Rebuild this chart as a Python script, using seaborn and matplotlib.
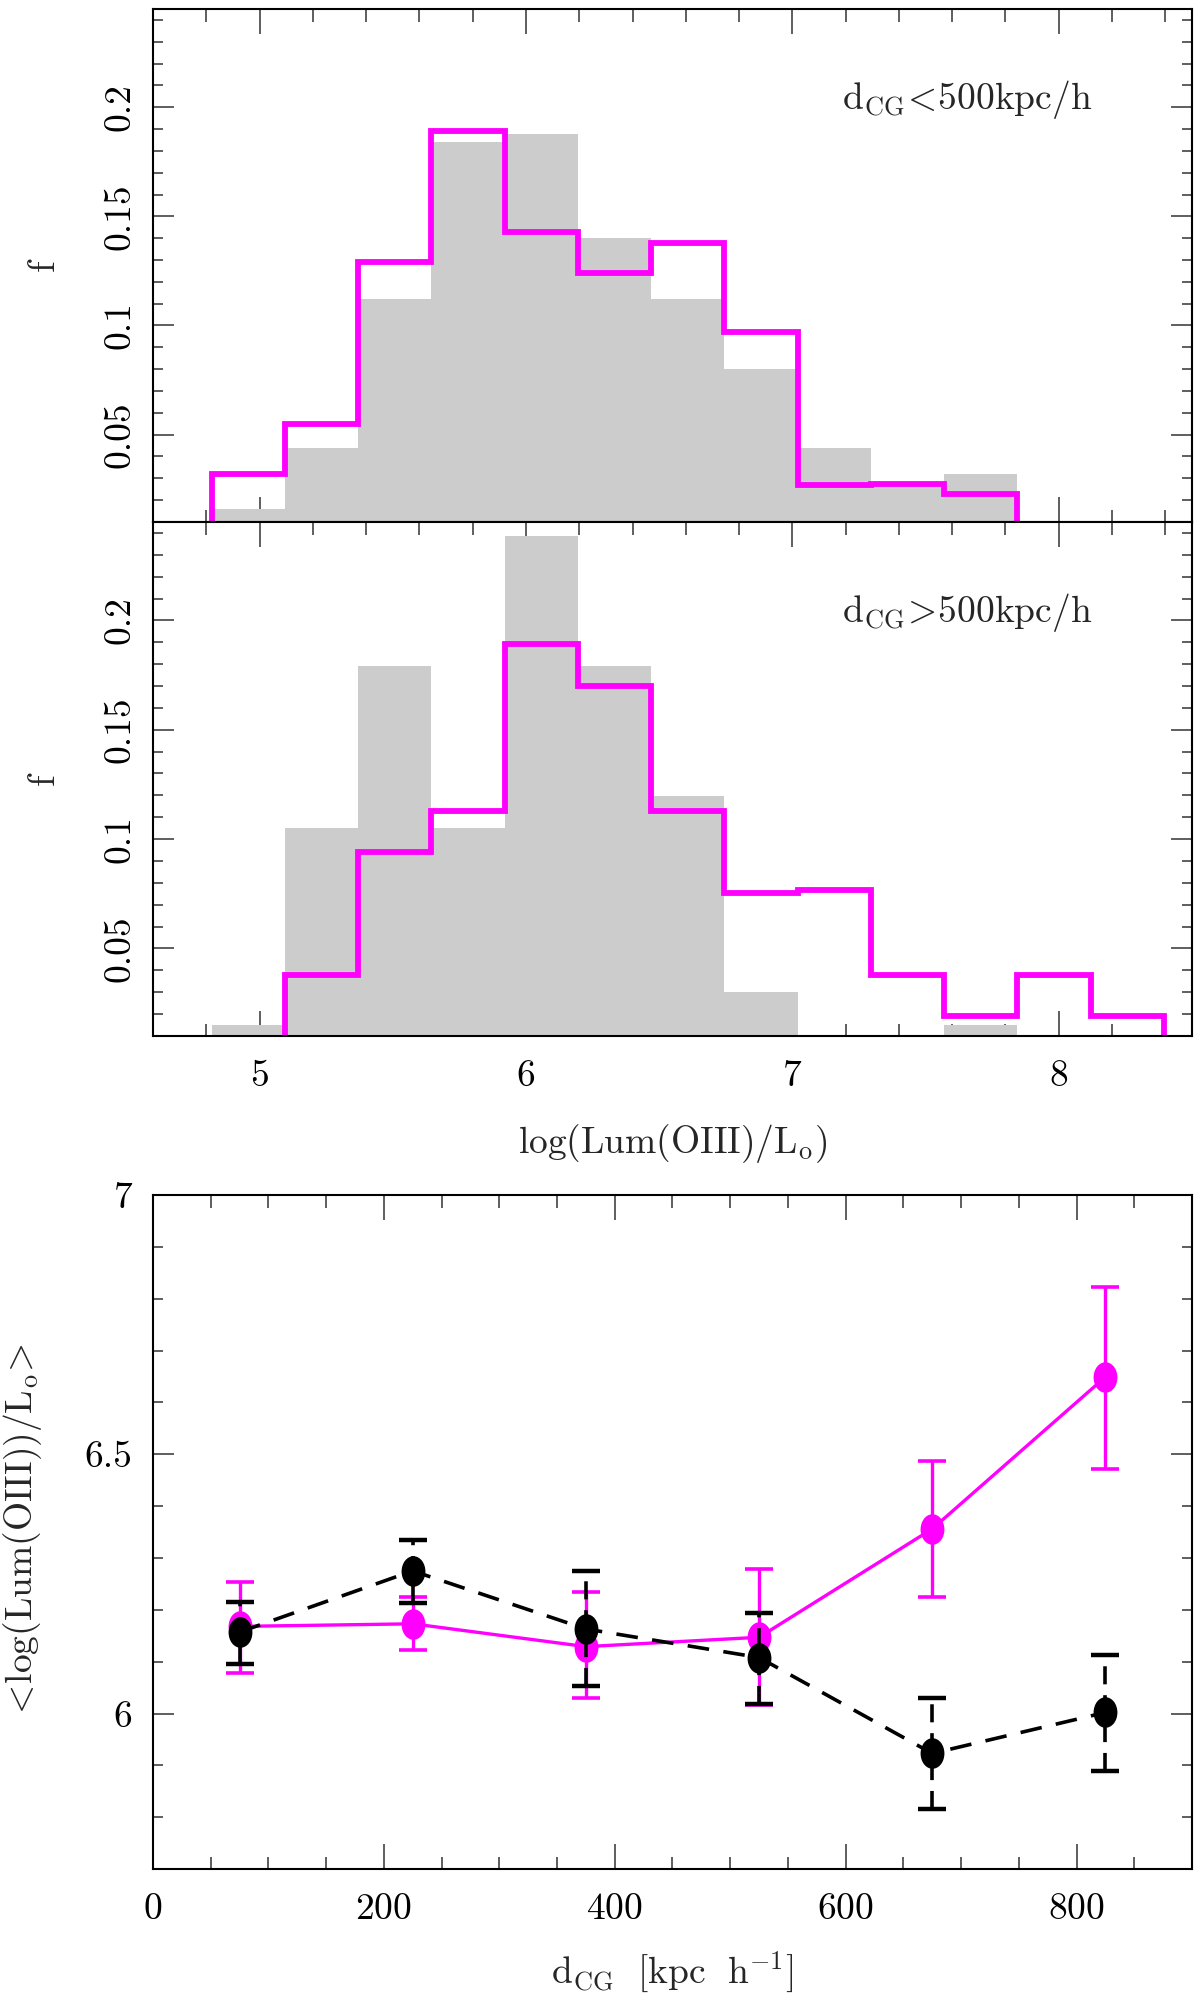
import numpy as np
import matplotlib
matplotlib.use("Agg")
from matplotlib import pyplot as plt
from matplotlib.ticker import MultipleLocator, FormatStrFormatter
from matplotlib.path import Path
from matplotlib.transforms import Affine2D
import seaborn as sns

# bin edges of log(Lum(OIII)/Lo), shared by both histograms
LUM_EDGES = [4.5445, 4.82, 5.095, 5.37, 5.645, 5.92, 6.195, 6.47,
             6.745, 7.02, 7.295, 7.57, 7.845, 8.12, 8.395, 8.67]

# d_CG < 500 kpc/h
NEAR_GRAY = [0, 0.016, 0.044, 0.112, 0.184, 0.1875, 0.140, 0.112,
             0.080, 0.044, 0.0265, 0.032, 0, 0, 0]
NEAR_MAG = [0, 0.032, 0.055, 0.129, 0.189, 0.143, 0.124, 0.138,
            0.097, 0.027, 0.0275, 0.023, 0, 0, 0]

# d_CG > 500 kpc/h
FAR_GRAY = [0, 0.015, 0.105, 0.179, 0.105, 0.2386, 0.179, 0.1195,
            0.030, 0, 0, 0.015, 0, 0, 0]
FAR_MAG = [0, 0, 0.038, 0.094, 0.113, 0.189, 0.170, 0.113,
           0.0755, 0.0765, 0.038, 0.019, 0.038, 0.019, 0]

# mean luminosity vs distance to the centre
D_CG = [75, 225, 375, 525, 675, 825]
MAG_MEAN = [6.168, 6.173, 6.129, 6.147, 6.356, 6.649]
MAG_LO = [6.079, 6.123, 6.030, 6.017, 6.2245, 6.471]
MAG_HI = [6.254, 6.2245, 6.234, 6.278, 6.487, 6.823]
BLK_MEAN = [6.157, 6.275, 6.163, 6.108, 5.923, 6.002]
BLK_LO = [6.095, 6.214, 6.054, 6.019, 5.816, 5.890]
BLK_HI = [6.215, 6.335, 6.274, 6.194, 6.030, 6.112]

MAGENTA = "#ff00ff"
GRAY = "#cccccc"

sns.set_style("ticks")
plt.rcParams['font.family'] = ['cmr10', 'DejaVu Serif']
plt.rcParams['mathtext.fontset'] = 'cm'
plt.rcParams['axes.formatter.use_mathtext'] = True
plt.rcParams['font.size'] = 27
plt.rcParams['axes.linewidth'] = 1.5
plt.rcParams['axes.edgecolor'] = 'black'


def style_ticks(ax, ypad):
    ax.tick_params(which='both', direction='in', top=True, right=True,
                   color='#333333', labelcolor='black', labelsize=27)
    ax.tick_params(axis='x', which='major', length=18, width=1.1, pad=17)
    ax.tick_params(axis='x', which='minor', length=9, width=1.1)
    ax.tick_params(axis='y', which='major', length=15, width=1.1, pad=ypad)
    ax.tick_params(axis='y', which='minor', length=7.5, width=1.1)


def draw_hist(ax, gray_vals, mag_vals, label):
    edges = np.array(LUM_EDGES)
    centers = 0.5 * (edges[:-1] + edges[1:])
    sns.histplot(x=centers, weights=gray_vals, bins=LUM_EDGES, element='bars',
                 color=GRAY, alpha=1, linewidth=0, ax=ax)
    sns.histplot(x=centers, weights=mag_vals, bins=LUM_EDGES, element='step',
                 fill=False, color=MAGENTA, linewidth=4.2,
                 solid_joinstyle='miter', ax=ax)
    ax.set_xlim(4.6, 8.5)
    ax.set_ylim(0.01, 0.245)
    ax.xaxis.set_major_locator(MultipleLocator(1))
    ax.xaxis.set_minor_locator(MultipleLocator(0.2))
    ax.yaxis.set_major_locator(MultipleLocator(0.05))
    ax.yaxis.set_minor_locator(MultipleLocator(0.01))
    ax.yaxis.set_major_formatter(FormatStrFormatter('%g'))
    style_ticks(ax, 12)
    plt.setp(ax.get_yticklabels(), rotation=90, va='center')
    ax.set_ylabel('f')
    ax.yaxis.set_label_coords(-0.0885, 0.5)
    ax.text(0.784, 0.823, label, transform=ax.transAxes,
            ha='center', va='center', fontsize=27)


fig = plt.figure(figsize=(12, 19.96), dpi=100)

ax1 = fig.add_axes([0.1275, 0.7385, 0.8658, 0.2570])
draw_hist(ax1, NEAR_GRAY, NEAR_MAG, r"$\mathrm{d_{CG}}\!<\!\mathrm{500kpc/h}$")
ax1.set_xlabel('')
ax1.tick_params(axis='x', labelbottom=False)

ax2 = fig.add_axes([0.1275, 0.4810, 0.8658, 0.2575])
draw_hist(ax2, FAR_GRAY, FAR_MAG, r"$\mathrm{d_{CG}}\!>\!\mathrm{500kpc/h}$")
ax2.set_xlabel(r"$\mathrm{log(Lum(OIII)/L_o)}$")
ax2.xaxis.set_label_coords(0.5, -0.167)

# bottom panel: mean luminosity vs d_CG
ax3 = fig.add_axes([0.1275, 0.0636, 0.8658, 0.3377])

ell = Affine2D().scale(0.78, 1.0).transform_path(Path.unit_circle())

mag_err = [np.array(MAG_MEAN) - np.array(MAG_LO), np.array(MAG_HI) - np.array(MAG_MEAN)]
blk_err = [np.array(BLK_MEAN) - np.array(BLK_LO), np.array(BLK_HI) - np.array(BLK_MEAN)]

ax3.errorbar(D_CG, MAG_MEAN, yerr=mag_err, fmt='none', ecolor=MAGENTA,
             elinewidth=2.4, capsize=10, capthick=2.6, zorder=2)
sns.lineplot(x=D_CG, y=MAG_MEAN, color=MAGENTA, lw=2.4, marker=ell, ms=22,
             mew=0, errorbar=None, ax=ax3, zorder=3)

eb = ax3.errorbar(D_CG, BLK_MEAN, yerr=blk_err, fmt='none', ecolor='black',
                  elinewidth=2.6, capsize=10, capthick=3.2, zorder=4)
eb[2][0].set_linestyle((0, (5, 3)))
sns.lineplot(x=D_CG, y=BLK_MEAN, color='black', lw=2.6, linestyle=(0, (6, 4)),
             marker=ell, ms=22, mew=0, errorbar=None, ax=ax3, zorder=5)

ax3.set_xlim(0, 900)
ax3.set_ylim(5.7, 7.0)
ax3.xaxis.set_major_locator(MultipleLocator(200))
ax3.xaxis.set_minor_locator(MultipleLocator(50))
ax3.yaxis.set_major_locator(MultipleLocator(0.5))
ax3.yaxis.set_minor_locator(MultipleLocator(0.1))
ax3.yaxis.set_major_formatter(FormatStrFormatter('%g'))
style_ticks(ax3, 15)
ax3.set_xlabel(r"$\mathrm{d_{CG}\ \ [kpc\ \ h^{-1}]}$")
ax3.xaxis.set_label_coords(0.5, -0.120)
ax3.set_ylabel(r"$<\!\mathrm{log(Lum(OIII))/L_o}\!>$")
ax3.yaxis.set_label_coords(-0.105, 0.5)

fig.savefig("out.png", dpi=100)
